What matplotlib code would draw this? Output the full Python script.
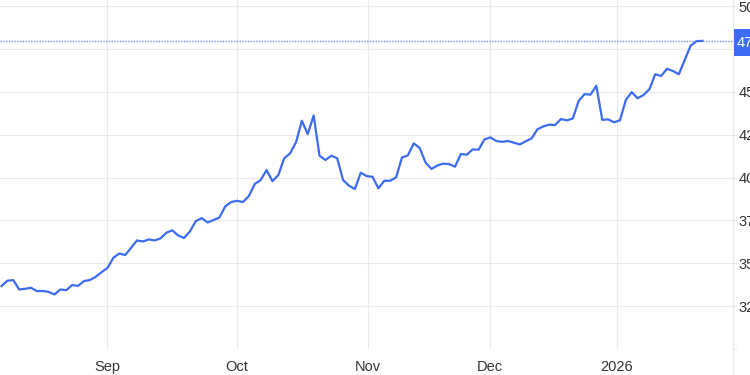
import matplotlib.pyplot as plt
from matplotlib.lines import Line2D
from matplotlib.patches import Rectangle
from matplotlib.transforms import blended_transform_factory

# daily gold price (USD/t.oz)
gold = [3367, 3398, 3402, 3347, 3351, 3357, 3338, 3338, 3333, 3318,
        3347, 3343, 3373, 3368, 3396, 3402, 3421, 3448, 3473, 3532,
        3557, 3548, 3590, 3633, 3627, 3639, 3633, 3645, 3678, 3692,
        3662, 3647, 3686, 3746, 3763, 3738, 3752, 3767, 3832, 3857,
        3864, 3857, 3892, 3962, 3985, 4043, 3979, 4014, 4112, 4141,
        4205, 4331, 4253, 4362, 4127, 4102, 4127, 4112, 3985, 3952,
        3933, 4028, 4008, 4004, 3937, 3981, 3981, 4001, 4117, 4129,
        4199, 4172, 4087, 4050, 4070, 4081, 4078, 4063, 4137, 4133,
        4164, 4162, 4222, 4234, 4213, 4208, 4213, 4203, 4193, 4211,
        4228, 4281, 4298, 4308, 4306, 4341, 4333, 4344, 4447, 4486,
        4483, 4535, 4336, 4339, 4322, 4333, 4452, 4498, 4462, 4481,
        4514, 4602, 4592, 4634, 4621, 4602, 4685, 4768, 4795, 4797]

month_pos = [17.96, 39.93, 62.27, 82.94, 104.45]
month_labels = ['Sep', 'Oct', 'Nov', 'Dec', '2026']
price_ticks = [3250, 3500, 3750, 4000, 4250, 4500, 4750, 5000]

blue = '#3d6cf2'
grid = '#e8eaee'
text = '#333333'

plt.rcParams['font.family'] = ['Liberation Sans', 'DejaVu Sans']

fig = plt.figure(figsize=(7.5, 3.75), dpi=100)
ax = fig.add_axes([0, 26 / 375, 733 / 750, 349 / 375])

ax.plot(range(len(gold)), gold, color=blue, lw=1.6, solid_joinstyle='round', zorder=3)
ax.axhline(gold[-1], color='#6a8cf5', lw=1.0, ls=(0, (1, 1)), zorder=2)

ax.set_xlim(-0.255, 124.2)
ax.set_ylim(3000, 5035)

ax.set_xticks(month_pos)
ax.set_xticklabels(month_labels)
ax.set_yticks(price_ticks + [3000])
ax.set_yticklabels([str(t) for t in price_ticks] + [''])
ax.yaxis.tick_right()

ax.grid(True, color=grid, lw=0.8)
ax.tick_params(axis='x', length=0, pad=8, labelsize=10.5, labelcolor=text)
ax.tick_params(axis='y', length=3, width=0.8, color=grid, pad=1,
               labelsize=10.5, labelcolor=text)
for side in ['top', 'left', 'bottom']:
    ax.spines[side].set_visible(False)
ax.spines['right'].set_color(grid)

# separator between plot and price scale runs the full height
fig.add_artist(Line2D([733 / 750, 733 / 750], [0, 1], color=grid, lw=0.8))

# last price tag on the right scale
trans = blended_transform_factory(ax.transAxes, ax.transData)
ax.add_patch(Rectangle((1.0, gold[-1] - 88), 0.05, 157, transform=trans,
                       fc=blue, ec='none', clip_on=False, zorder=5))
ax.text(1.0, gold[-1] - 10, f'{gold[-1]}', transform=trans, ha='left', va='center',
        color='white', fontsize=10.5, zorder=6, clip_on=False)
ax.texts[-1].set_x(1.0 + 4 / 733)

fig.savefig('out.png', dpi=100)
